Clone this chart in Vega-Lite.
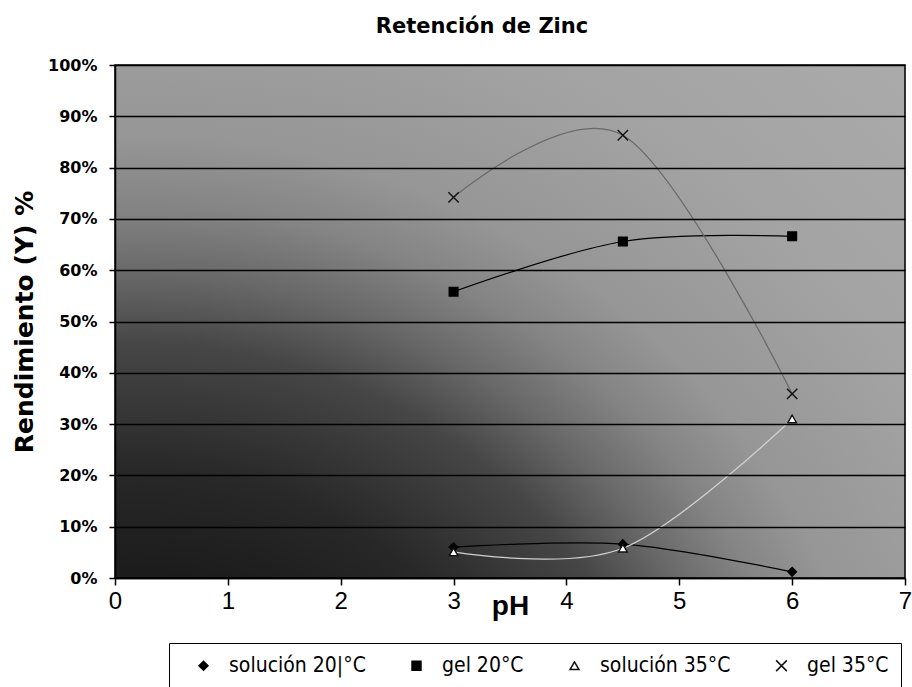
{
  "$schema": "https://vega.github.io/schema/vega-lite/v6.json",
  "width": 790,
  "height": 513,
  "autosize": {"type": "none"},
  "padding": {"left": 115, "top": 65, "right": 7, "bottom": 109},
  "background": "white",
  "title": {
    "text": "Retención de Zinc",
    "font": "DejaVu Sans",
    "fontWeight": "bold",
    "fontSize": 21,
    "color": "black",
    "baseline": "alphabetic",
    "offset": 33,
    "dx": -28,
    "dy": 30
  },
  "datasets": {
    "fondo": [{"x0": 0, "x1": 7, "y0": 0, "y1": 100}],
    "datos": [
      {"serie": "solución 20|°C", "ph": 3, "rend": 6.0},
      {"serie": "solución 20|°C", "ph": 4.5, "rend": 6.6},
      {"serie": "solución 20|°C", "ph": 6, "rend": 1.2},
      {"serie": "gel 20°C", "ph": 3, "rend": 55.8},
      {"serie": "gel 20°C", "ph": 4.5, "rend": 65.6},
      {"serie": "gel 20°C", "ph": 6, "rend": 66.6},
      {"serie": "solución 35°C", "ph": 3, "rend": 5.1},
      {"serie": "solución 35°C", "ph": 4.5, "rend": 5.8},
      {"serie": "solución 35°C", "ph": 6, "rend": 31.0},
      {"serie": "gel 35°C", "ph": 3, "rend": 74.2},
      {"serie": "gel 35°C", "ph": 4.5, "rend": 86.3},
      {"serie": "gel 35°C", "ph": 6, "rend": 35.9}
    ]
  },
  "layer": [
    {
      "data": {"name": "fondo"},
      "mark": {
        "type": "rect",
        "fill": {
          "gradient": "radial",
          "x1": 0.03, "y1": 1.2234, "r1": 0,
          "x2": 0.03, "y2": 1.2234, "r2": 1.449,
          "stops": [
            {"offset": 0, "color": "#141414"},
            {"offset": 0.28, "color": "#1c1c1c"},
            {"offset": 0.37, "color": "#282828"},
            {"offset": 0.42, "color": "#363636"},
            {"offset": 0.48, "color": "#464646"},
            {"offset": 0.54, "color": "#686868"},
            {"offset": 0.6, "color": "#848484"},
            {"offset": 0.66, "color": "#969696"},
            {"offset": 0.8, "color": "#a3a3a3"},
            {"offset": 1, "color": "#ababab"}
          ]
        },
        "stroke": "black",
        "strokeWidth": 1.5
      },
      "encoding": {
        "x": {
          "field": "x0",
          "type": "quantitative",
          "scale": {"domain": [0, 7], "nice": false},
          "axis": {
            "values": [0, 1, 2, 3, 4, 5, 6, 7],
            "format": "d",
            "grid": false,
            "domainColor": "black",
            "domainWidth": 1.5,
            "tickColor": "black",
            "tickWidth": 1.5,
            "tickSize": 7,
            "labelFont": "Liberation Sans",
            "labelFontSize": 24,
            "labelColor": "black",
            "labelPadding": 4,
            "labelFlush": false,
            "title": "pH",
            "titleFont": "Liberation Sans",
            "titleFontWeight": "bold",
            "titleFontSize": 28,
            "titleColor": "black",
            "titleBaseline": "alphabetic",
            "titleY": 36,
            "zindex": 1
          }
        },
        "x2": {"field": "x1"},
        "y": {
          "field": "y0",
          "type": "quantitative",
          "scale": {"domain": [0, 100], "nice": false},
          "axis": {
            "values": [0, 10, 20, 30, 40, 50, 60, 70, 80, 90, 100],
            "labelExpr": "datum.value + '%'",
            "grid": true,
            "gridColor": "black",
            "gridWidth": 1.5,
            "gridOpacity": 1,
            "domainColor": "black",
            "domainWidth": 1.5,
            "tickColor": "black",
            "tickWidth": 1.5,
            "tickSize": 6,
            "labelFont": "DejaVu Sans",
            "labelFontWeight": "bold",
            "labelFontSize": 16,
            "labelColor": "black",
            "labelPadding": 12,
            "title": "Rendimiento (Y) %",
            "titleFont": "DejaVu Sans",
            "titleFontWeight": "bold",
            "titleFontSize": 25,
            "titleColor": "black",
            "titlePadding": 10,
            "zindex": 1
          }
        },
        "y2": {"field": "y1"}
      }
    },
    {
      "data": {"name": "datos"},
      "mark": {"type": "line", "interpolate": "cardinal"},
      "encoding": {
        "x": {"field": "ph", "type": "quantitative"},
        "y": {"field": "rend", "type": "quantitative"},
        "color": {
          "field": "serie",
          "type": "nominal",
          "scale": {
            "domain": ["gel 35°C", "solución 35°C", "gel 20°C", "solución 20|°C"],
            "range": ["#6a6a6a", "#d0d0d0", "#000000", "#000000"]
          },
          "legend": null
        },
        "strokeWidth": {
          "field": "serie",
          "type": "nominal",
          "scale": {
            "domain": ["solución 35°C", "gel 35°C", "solución 20|°C", "gel 20°C"],
            "range": [1.3, 1.2, 2, 2]
          },
          "legend": null
        }
      }
    },
    {
      "data": {"name": "datos"},
      "mark": {"type": "point", "opacity": 1, "strokeWidth": 1.4, "size": 75},
      "encoding": {
        "x": {"field": "ph", "type": "quantitative"},
        "y": {"field": "rend", "type": "quantitative"},
        "shape": {
          "field": "serie",
          "type": "nominal",
          "scale": {
            "domain": ["solución 20|°C", "gel 20°C", "solución 35°C", "gel 35°C"],
            "range": ["diamond", "square", "triangle-up", "M-1.2,-1.2L1.2,1.2M-1.2,1.2L1.2,-1.2"]
          },
          "legend": {
            "title": " ",
            "titleOrient": "left",
            "titlePadding": 12,
            "titleFontSize": 10,
            "orient": "none",
            "legendX": 54,
            "legendY": 578,
            "direction": "horizontal",
            "columns": 4,
            "columnPadding": 40,
            "padding": 12,
            "strokeColor": "black",
            "fillColor": "white",
            "labelFont": "DejaVu Sans Condensed, Liberation Sans, sans-serif",
            "labelFontSize": 21,
            "labelColor": "black",
            "labelOffset": 15,
            "symbolSize": 80,
            "symbolOpacity": 1,
            "symbolStrokeWidth": 1.5
          }
        },
        "fill": {
          "field": "serie",
          "type": "nominal",
          "scale": {
            "domain": ["solución 20|°C", "gel 20°C", "solución 35°C", "gel 35°C"],
            "range": ["#000000", "#000000", "#ffffff", "transparent"]
          },
          "legend": {
            "title": " ",
            "titleOrient": "left",
            "titlePadding": 12,
            "titleFontSize": 10,
            "orient": "none",
            "legendX": 54,
            "legendY": 578,
            "direction": "horizontal",
            "columns": 4,
            "columnPadding": 40,
            "padding": 12,
            "strokeColor": "black",
            "fillColor": "white",
            "labelFont": "DejaVu Sans Condensed, Liberation Sans, sans-serif",
            "labelFontSize": 21,
            "labelColor": "black",
            "labelOffset": 15,
            "symbolSize": 80,
            "symbolOpacity": 1,
            "symbolStrokeWidth": 1.5
          }
        },
        "stroke": {
          "field": "serie",
          "type": "nominal",
          "scale": {
            "domain": ["solución 20|°C", "gel 20°C", "solución 35°C", "gel 35°C"],
            "range": ["#000000", "#000000", "#111111", "#111111"]
          },
          "legend": {
            "title": " ",
            "titleOrient": "left",
            "titlePadding": 12,
            "titleFontSize": 10,
            "orient": "none",
            "legendX": 54,
            "legendY": 578,
            "direction": "horizontal",
            "columns": 4,
            "columnPadding": 40,
            "padding": 12,
            "strokeColor": "black",
            "fillColor": "white",
            "labelFont": "DejaVu Sans Condensed, Liberation Sans, sans-serif",
            "labelFontSize": 21,
            "labelColor": "black",
            "labelOffset": 15,
            "symbolSize": 80,
            "symbolOpacity": 1,
            "symbolStrokeWidth": 1.5
          }
        }
      }
    }
  ]
}
